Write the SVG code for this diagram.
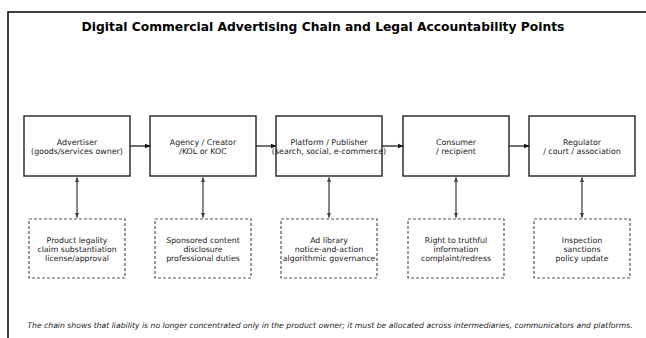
<svg xmlns="http://www.w3.org/2000/svg" width="646" height="338" viewBox="0 0 646 338">
  <style>
    text { font-family: "DejaVu Sans", "Liberation Sans", sans-serif; fill: #1a1a1a; }
    .title { font-size: 12.3px; font-weight: bold; text-anchor: middle; fill: #000; }
    .lbl { font-size: 7.9px; text-anchor: middle; }
    .note { font-size: 7.8px; text-anchor: middle; }
    .foot { font-size: 7.7px; font-style: italic; text-anchor: middle; }
    .node rect { fill: #fff; stroke: #222; stroke-width: 1.4; }
    .duty rect { fill: #fff; stroke: #555; stroke-width: 1.2; stroke-dasharray: 3 2; }
    .flow { stroke: #111; stroke-width: 1.2; fill: none; marker-end: url(#head); }
    .link { stroke: #555; stroke-width: 1.4; fill: none; marker-start: url(#headg); marker-end: url(#headg); }
  </style>
  <defs>
    <marker id="head" viewBox="0 0 10 10" refX="9" refY="5" markerWidth="6" markerHeight="6" orient="auto-start-reverse" markerUnits="userSpaceOnUse">
      <path d="M0,1 L10,5 L0,9 z" fill="#111"/>
    </marker>
    <marker id="headg" viewBox="0 0 10 10" refX="9" refY="5" markerWidth="5" markerHeight="5" orient="auto-start-reverse" markerUnits="userSpaceOnUse">
      <path d="M0,1 L10,5 L0,9 z" fill="#444"/>
    </marker>
  </defs>

  <rect width="646" height="338" fill="#fff"/>
  <!-- outer frame, open to the right and bottom -->
  <rect x="8" y="12" width="700" height="400" fill="none" stroke="#000" stroke-width="1.5"/>

  <text class="title" x="323" y="30.5">Digital Commercial Advertising Chain and Legal Accountability Points</text>

  <!-- chain actors -->
  <g id="advertiser" class="node">
    <rect x="24" y="116" width="106" height="60"/>
    <text class="lbl" x="77" y="144.5">Advertiser</text>
    <text class="lbl" x="77" y="154">(goods/services owner)</text>
  </g>
  <g id="agency" class="node">
    <rect x="150" y="116" width="106" height="60"/>
    <text class="lbl" x="203" y="144.5">Agency / Creator</text>
    <text class="lbl" x="203" y="154">/KOL or KOC</text>
  </g>
  <g id="platform" class="node">
    <rect x="276" y="116" width="106" height="60"/>
    <text class="lbl" x="329" y="144.5">Platform / Publisher</text>
    <text class="lbl" x="329" y="154">(search, social, e-commerce)</text>
  </g>
  <g id="consumer" class="node">
    <rect x="403" y="116" width="106" height="60"/>
    <text class="lbl" x="456" y="144.5">Consumer</text>
    <text class="lbl" x="456" y="154">/ recipient</text>
  </g>
  <g id="regulator" class="node">
    <rect x="529" y="116" width="106" height="60"/>
    <text class="lbl" x="582" y="144.5">Regulator</text>
    <text class="lbl" x="582" y="154">/ court / association</text>
  </g>

  <!-- accountability points -->
  <g id="duty-advertiser" class="duty">
    <rect x="29" y="219" width="96" height="59"/>
    <text class="note" x="77" y="242.5">Product legality</text>
    <text class="note" x="77" y="251.5">claim substantiation</text>
    <text class="note" x="77" y="260.5">license/approval</text>
  </g>
  <g id="duty-agency" class="duty">
    <rect x="155" y="219" width="96" height="59"/>
    <text class="note" x="203" y="242.5">Sponsored content</text>
    <text class="note" x="203" y="251.5">disclosure</text>
    <text class="note" x="203" y="260.5">professional duties</text>
  </g>
  <g id="duty-platform" class="duty">
    <rect x="281" y="219" width="96" height="59"/>
    <text class="note" x="329" y="242.5">Ad library</text>
    <text class="note" x="329" y="251.5">notice-and-action</text>
    <text class="note" x="329" y="260.5">algorithmic governance</text>
  </g>
  <g id="duty-consumer" class="duty">
    <rect x="408" y="219" width="96" height="59"/>
    <text class="note" x="456" y="242.5">Right to truthful</text>
    <text class="note" x="456" y="251.5">information</text>
    <text class="note" x="456" y="260.5">complaint/redress</text>
  </g>
  <g id="duty-regulator" class="duty">
    <rect x="534" y="219" width="96" height="59"/>
    <text class="note" x="582" y="242.5">Inspection</text>
    <text class="note" x="582" y="251.5">sanctions</text>
    <text class="note" x="582" y="260.5">policy update</text>
  </g>

  <g id="connectors">
    <line class="flow" x1="130" y1="146" x2="150" y2="146"/>
    <line class="flow" x1="256" y1="146" x2="276" y2="146"/>
    <line class="flow" x1="382" y1="146" x2="403" y2="146"/>
    <line class="flow" x1="509" y1="146" x2="529" y2="146"/>
    <line class="link" x1="77" y1="177.5" x2="77" y2="217.5"/>
    <line class="link" x1="203" y1="177.5" x2="203" y2="217.5"/>
    <line class="link" x1="329" y1="177.5" x2="329" y2="217.5"/>
    <line class="link" x1="456" y1="177.5" x2="456" y2="217.5"/>
    <line class="link" x1="582" y1="177.5" x2="582" y2="217.5"/>
  </g>

  <text class="foot" x="330" y="327.5">The chain shows that liability is no longer concentrated only in the product owner; it must be allocated across intermediaries, communicators and platforms.</text>
</svg>
